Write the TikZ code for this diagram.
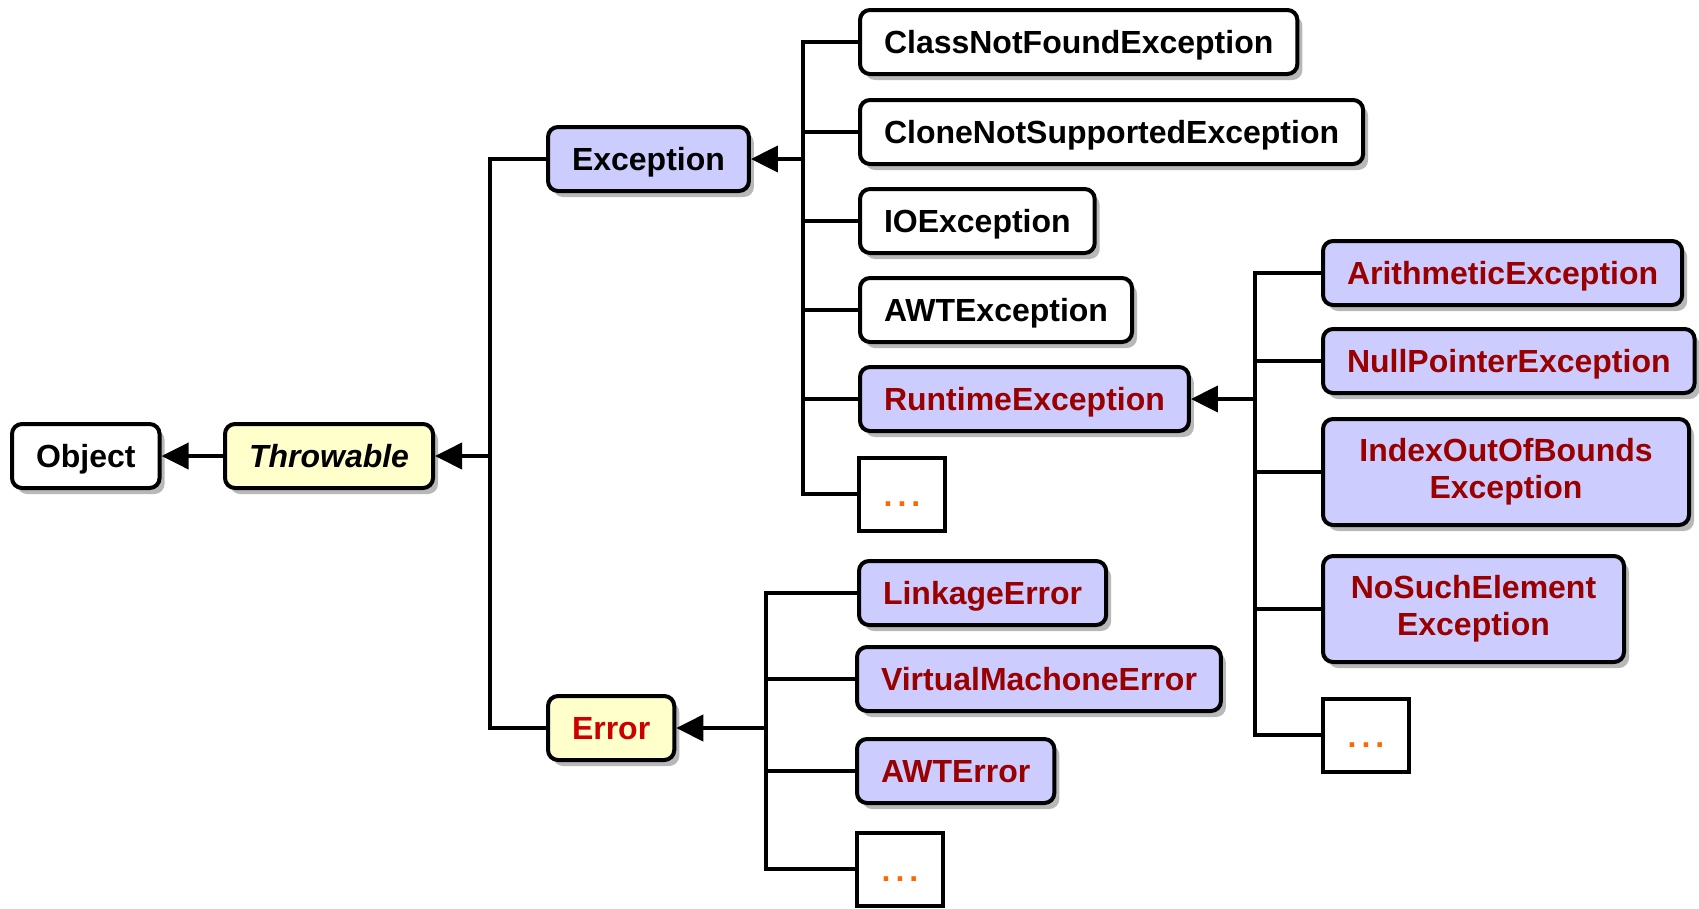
\documentclass[tikz,border=0pt]{standalone}
\usepackage{fontspec}
\setmainfont{Liberation Sans}
\usetikzlibrary{arrows.meta, shadows}
\definecolor{lav}{RGB}{204, 204, 255}
\definecolor{cream}{RGB}{255, 255, 204}
\definecolor{darkred}{RGB}{153, 0, 0}
\definecolor{errred}{RGB}{204, 0, 0}
\definecolor{dots}{RGB}{255, 102, 0}
\newcommand{\moredots}{.\hspace{5pt}.\hspace{5pt}.}

\begin{document}
\begin{tikzpicture}[x=1pt, y=-1pt,
  box/.style={draw, line width=4pt, rounded corners=10pt, fill=white, anchor=west,
    minimum height=64pt, inner xsep=24pt, inner ysep=0pt, align=center,
    text height=23pt, text depth=0pt,
    font=\fontsize{32}{37}\selectfont\bfseries,
    drop shadow={shadow xshift=5pt, shadow yshift=-6pt, fill=black!28, opacity=1}},
  twoline/.style={text height=, text depth=, minimum height=106pt},
  lavbox/.style={box, fill=lav},
  redbox/.style={lavbox, text=darkred},
  creambox/.style={box, fill=cream},
  more/.style={draw, line width=4pt, fill=white, anchor=west, minimum width=86pt,
    minimum height=73pt, inner sep=0pt, text=dots, text height=24pt, text depth=0pt,
    font=\fontsize{32}{37}\selectfont\bfseries},
  link/.style={line width=4pt},
  arr/.style={link, -{Triangle[length=27pt, width=26pt]}}]

\useasboundingbox (0, 0) rectangle (1699, 908);

% root chain
\node[box] (obj) at (10, 456) {Object};
\node[creambox] (thr) at (223, 456) {\itshape Throwable};
\node[lavbox] (exc) at (546, 159) {Exception};
\node[creambox, text=errred] (err) at (546, 728) {Error};

% checked exceptions
\node[box] (cnf) at (858, 42) {ClassNotFoundException};
\node[box] (cns) at (858, 132) {CloneNotSupportedException};
\node[box] (ioe) at (858, 221) {IOException};
\node[box] (awte) at (858, 310) {AWTException};
\node[redbox] (rte) at (858, 399) {RuntimeException};
\node[more] (more1) at (857, 494) {\moredots};

% runtime exceptions
\node[redbox] (ari) at (1321, 273) {ArithmeticException};
\node[redbox] (npe) at (1321, 361) {NullPointerException};
\node[redbox, twoline, minimum width=366pt] (ioob) at (1321, 472) {IndexOutOfBounds\\Exception};
\node[redbox, twoline, minimum width=301pt] (nse) at (1321, 609) {NoSuchElement\\Exception};
\node[more] (more2) at (1321, 735) {\moredots};

% errors
\node[redbox] (lnk) at (857, 593) {LinkageError};
\node[redbox] (vme) at (855, 679) {VirtualMachoneError};
\node[redbox] (awterr) at (855, 771) {AWTError};
\node[more] (more3) at (855, 869) {\moredots};

\coordinate (thr-bus) at (490, 456);
\coordinate (exc-bus) at (803, 159);
\coordinate (rte-bus) at (1255, 399);
\coordinate (err-bus) at (766, 728);

\draw[arr] (thr.west) -- (obj.east);

\draw[arr] (thr-bus) -- (thr.east);
\foreach \c in {exc, err}
  \draw[link] (\c.west) -| (thr-bus);

\draw[arr] (exc-bus) -- (exc.east);
\foreach \c in {cnf, cns, ioe, awte, rte, more1}
  \draw[link] (\c.west) -| (exc-bus);

\draw[arr] (rte-bus) -- (rte.east);
\foreach \c in {ari, npe, ioob, nse, more2}
  \draw[link] (\c.west) -| (rte-bus);

\draw[arr] (err-bus) -- (err.east);
\foreach \c in {lnk, vme, awterr, more3}
  \draw[link] (\c.west) -| (err-bus);
\end{tikzpicture}
\end{document}
